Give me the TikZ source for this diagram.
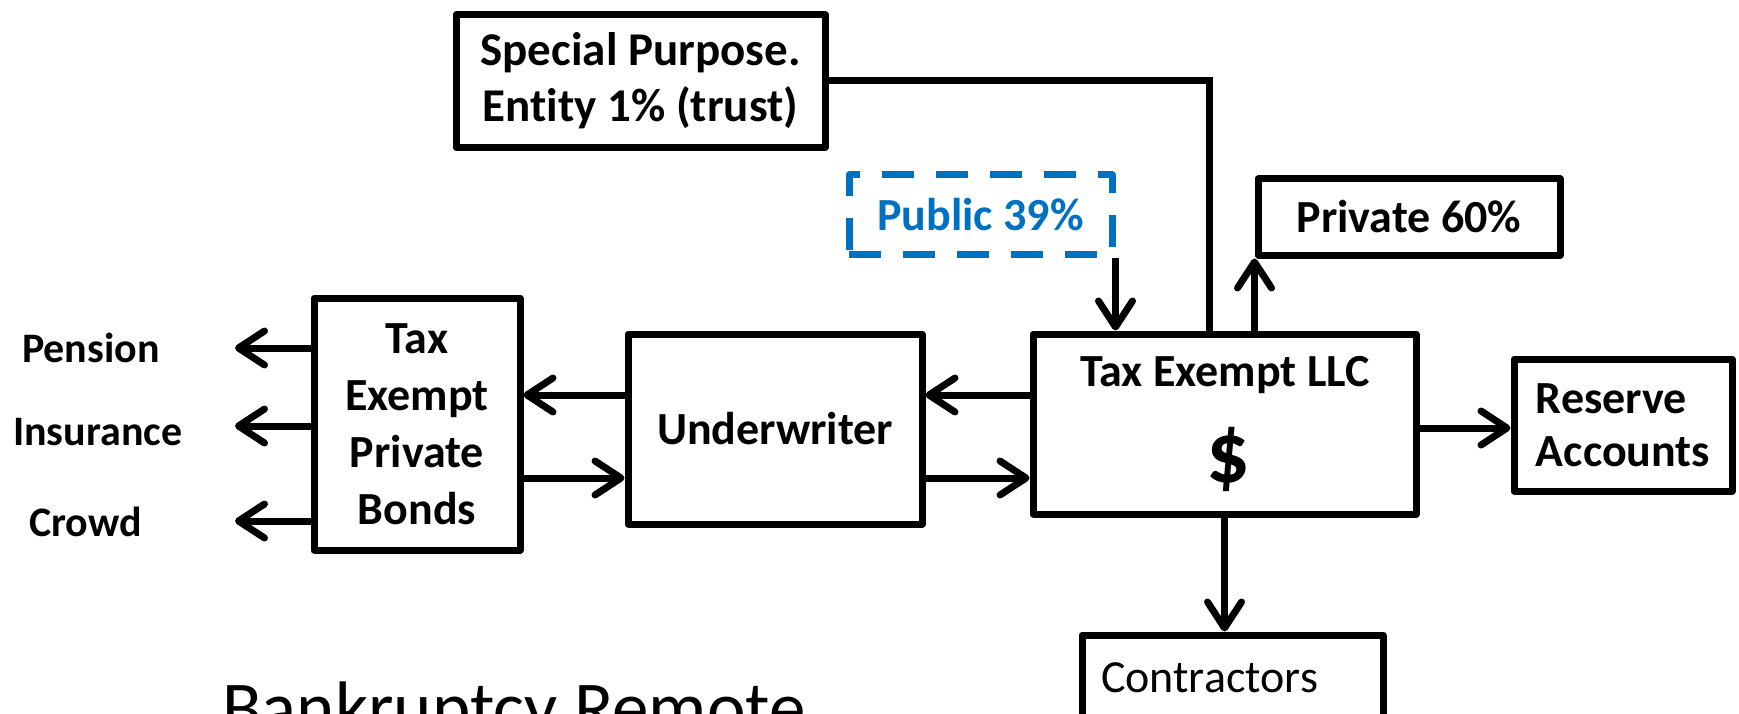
\documentclass[tikz,border=0pt]{standalone}
\usepackage{fontspec}
\setmainfont[Ligatures=NoCommon]{Carlito}
\usetikzlibrary{arrows.meta}
\definecolor{pubblue}{HTML}{0070C0}

\begin{document}
\begin{tikzpicture}[x=1pt,y=-1pt]
\useasboundingbox (0,0) rectangle (1739,714);
\clip (0,0) rectangle (1739,714);

\begin{scope}[every node/.style={rectangle,draw,line width=7pt,line join=round,inner sep=0pt,align=center,
                                 font=\fontsize{46}{57}\selectfont\bfseries}]
    \node[minimum width=206pt,minimum height=252pt] (Bonds) at (417,424) {Tax\\Exempt\\Private\\Bonds};
    \node[minimum width=294pt,minimum height=190pt] (UW) at (775,429) {Underwriter};
    \node[minimum width=383pt,minimum height=180pt] (LLC) at (1224.5,424) {};
    \node[minimum width=369pt,minimum height=133pt,font=\fontsize{47}{56}\selectfont\bfseries] (SPE) at (640.5,81) {Special Purpose.\\Entity 1\% (trust)};
    \node[minimum width=263pt,minimum height=79pt,draw=pubblue,text=pubblue,dash pattern=on 32pt off 22pt] (Public) at (980.5,214.5) {Public 39\%};
    \node[minimum width=302pt,minimum height=76pt] (Private) at (1409,217) {Private 60\%};
    \node[minimum width=218pt,minimum height=132pt,align=left,font=\fontsize{46}{53}\selectfont\bfseries] (Reserve) at (1623,425) {Reserve\\Accounts};
    \node[minimum height=85pt,inner xsep=19pt,text width=263pt,align=left,font=\fontsize{46}{56}\selectfont] (Contr) at (1232.5,677.5) {Contractors};
\end{scope}

\begin{scope}[every node/.style={inner sep=0pt,font=\fontsize{42}{50}\selectfont\bfseries}]
    \node[anchor=west] (Pen) at (22,348) {Pension};
    \node[anchor=west] (Ins) at (13,432) {Insurance};
    \node[anchor=west] (Crd) at (29,522) {Crowd};
    \node[font=\fontsize{46}{56}\selectfont\bfseries] (LLCt) at (1225,375) {Tax Exempt LLC};
    \node[font=\fontsize{86}{90}\selectfont\bfseries] (Dol) at (1228,459) {\$};
    \node[anchor=base west,font=\fontsize{73}{80}\selectfont] (BR) at (222,732) {Bankruptcy Remote};
\end{scope}

\coordinate (P) at (235,348);
\coordinate (I) at (235,426);
\coordinate (C) at (235,521);
\coordinate (hi) at (0,395);
\coordinate (lo) at (0,478);
\coordinate (R) at (0,428);
\coordinate (T) at (1209,0);

\begin{scope}[>={Straight Barb[length=26pt,width=34pt,round]},
              every edge/.style={draw,line width=7pt}]
    \path [->] (Bonds.west |- P) edge (P);
    \path [->] (Bonds.west |- I) edge (I);
    \path [->] (Bonds.west |- C) edge (C);
    \path [->] (UW.west |- hi) edge (Bonds.east |- hi);
    \path [->] (Bonds.east |- lo) edge (UW.west |- lo);
    \path [->] (LLC.west |- hi) edge (UW.east |- hi);
    \path [->] (UW.east |- lo) edge (LLC.west |- lo);
    \path [->] (Public.south east) edge (Public.south east |- LLC.north);
    \path [->] (Private.south west |- LLC.north) edge (Private.south west);
    \path [->] (LLC.east |- R) edge (Reserve.west |- R);
    \path [->] (LLC.south) edge (LLC.south |- Contr.north);
    \draw [line width=7pt] (SPE.east) -| (T |- LLC.north);
\end{scope}
\end{tikzpicture}
\end{document}
